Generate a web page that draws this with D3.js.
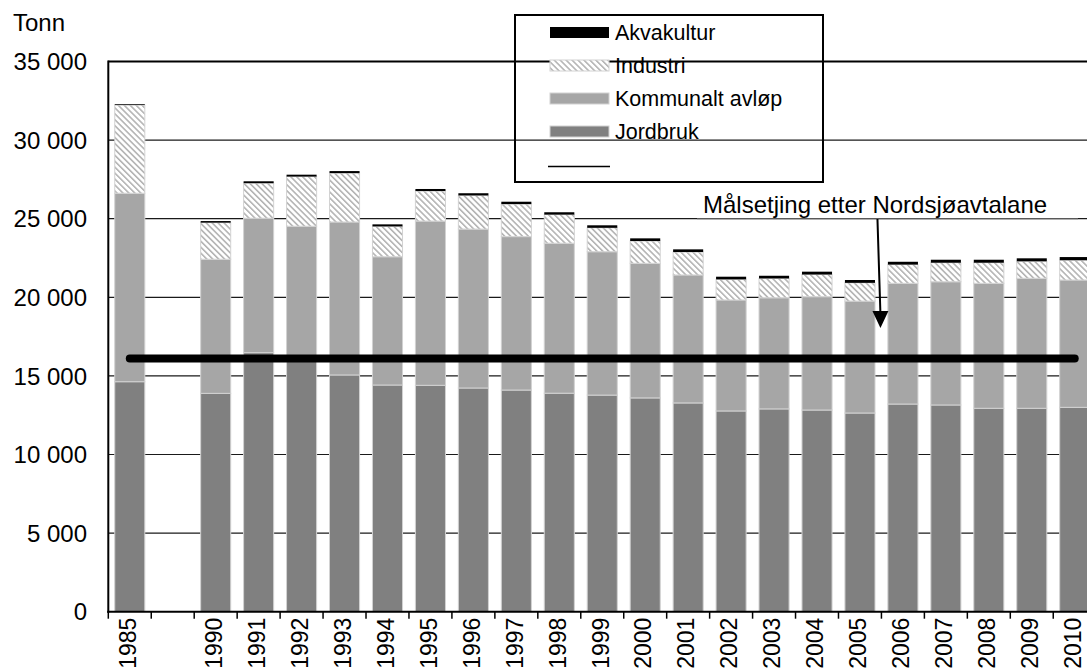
<!DOCTYPE html>
<html lang="no">
<head>
<meta charset="utf-8">
<title>Tilførsler av nitrogen</title>
<style>
  body { margin: 0; background: #fff; }
  svg { display: block; font-family: "Liberation Sans", Arial, sans-serif; }
  .grid line { stroke: #1a1a1a; stroke-width: 1.2; }
  .tick-label { font-size: 24px; fill: #000; }
  .x-label { font-size: 23px; fill: #000; }
  .legend text { font-size: 21.5px; fill: #000; }
</style>
</head>
<body>
<svg width="1087" height="670"></svg>
<script src="https://d3js.org/d3.v7.min.js"></script>
<script>
  // categories on the x axis ("" = the gap 1986-1989)
  const years = ["1985", "", "1990", "1991", "1992", "1993", "1994", "1995", "1996", "1997",
    "1998", "1999", "2000", "2001", "2002", "2003", "2004", "2005", "2006", "2007",
    "2008", "2009", "2010"];

  // tonn per year, null = no bar
  const jordbruk = [14630, null, 13890, 16480, 16300, 15060, 14420, 14400, 14230, 14100,
    13900, 13780, 13600, 13280, 12770, 12900, 12830, 12640, 13210, 13150,
    12940, 12940, 13000];
  const kommunalt = [11990, null, 8530, 8550, 8220, 9730, 8160, 10450, 10110, 9760,
    9540, 9120, 8560, 8140, 7060, 7070, 7210, 7120, 7680, 7840,
    7950, 8270, 8100];
  const industri = [5610, null, 2330, 2230, 3160, 3110, 1930, 1910, 2140, 2070,
    1820, 1520, 1420, 1460, 1310, 1230, 1410, 1160, 1190, 1210,
    1310, 1080, 1260];
  const akvakultur = [50, null, 100, 120, 120, 130, 130, 130, 140, 150,
    150, 160, 170, 170, 170, 170, 180, 180, 180, 190,
    190, 190, 200];

  const target = 16100;          // Målsetjing etter Nordsjøavtalane
  const yTicks = [0, 5000, 10000, 15000, 20000, 25000, 30000, 35000];

  const keys = ["Jordbruk", "Kommunalt avløp", "Industri", "Akvakultur"];
  const colors = {
    "Jordbruk": "#808080",
    "Kommunalt avløp": "#a6a6a6",
    "Industri": "url(#hatch)",
    "Akvakultur": "#000"
  };

  const rows = years.map((y, i) => ({
    year: y,
    "Jordbruk": jordbruk[i] || 0,
    "Kommunalt avløp": kommunalt[i] || 0,
    "Industri": industri[i] || 0,
    "Akvakultur": akvakultur[i] || 0,
    empty: jordbruk[i] == null
  }));

  const svg = d3.select("svg");
  const margin = {top: 61.5, left: 108.3, bottom: 58.3};
  const plotRight = 1096.2;
  const height = 670 - margin.bottom;

  const x = d3.scaleBand().domain(years).range([margin.left, plotRight]).padding(0);
  const y = d3.scaleLinear().domain([0, 35000]).range([height, margin.top]);
  const barW = x.bandwidth() * 0.7;

  // hatch pattern for Industri
  const defs = svg.append("defs");
  const pat = defs.append("pattern")
    .attr("id", "hatch")
    .attr("patternUnits", "userSpaceOnUse")
    .attr("width", 4.2).attr("height", 4.2)
    .attr("patternTransform", "rotate(-45)");
  pat.append("rect").attr("width", 4.2).attr("height", 4.2).attr("fill", "#fff");
  pat.append("line")
    .attr("x1", 0.8).attr("y1", 0).attr("x2", 0.8).attr("y2", 4.2)
    .attr("stroke", "#a3a3a3").attr("stroke-width", 1.3);

  // gridlines
  svg.append("g").attr("class", "grid")
    .selectAll("line")
    .data(yTicks.filter(d => d > 0 && d < 35000))
    .join("line")
    .attr("x1", margin.left).attr("x2", plotRight)
    .attr("y1", d => y(d)).attr("y2", d => y(d));

  // stacked bars
  const stacked = d3.stack().keys(keys)(rows);
  svg.append("g")
    .selectAll("g")
    .data(stacked)
    .join("g")
    .attr("fill", d => colors[d.key])
    .attr("stroke", d => d.key === "Akvakultur" ? "none" : "#d2d2d2")
    .attr("stroke-width", 1)
    .selectAll("rect")
    .data(d => d.filter(p => !p.data.empty))
    .join("rect")
    .attr("x", d => x(d.data.year) + (x.bandwidth() - barW) / 2)
    .attr("width", barW)
    .attr("y", d => y(d[1]))
    .attr("height", d => y(d[0]) - y(d[1]));

  // target line
  const first = years[0], last = years[years.length - 1];
  svg.append("line")
    .attr("x1", x(first) + x.bandwidth() / 2)
    .attr("x2", x(last) + x.bandwidth() / 2)
    .attr("y1", y(target)).attr("y2", y(target))
    .attr("stroke", "#000").attr("stroke-width", 8)
    .attr("stroke-linecap", "round");

  // annotation
  const note = svg.append("g");
  note.append("rect")
    .attr("x", 697).attr("y", 186).attr("width", 381).attr("height", 32)
    .attr("fill", "#fff");
  note.append("line")
    .attr("x1", 697).attr("x2", 1078).attr("y1", 219).attr("y2", 219)
    .attr("stroke", "#999").attr("stroke-width", 1);
  note.append("text")
    .attr("x", 703).attr("y", 213)
    .style("font-size", "24px")
    .text("Målsetjing etter Nordsjøavtalane");
  const tipX = x("2006") - 1, tipY = y(18050);
  note.append("line")
    .attr("x1", tipX - 3).attr("y1", 219)
    .attr("x2", tipX).attr("y2", tipY - 14)
    .attr("stroke", "#000").attr("stroke-width", 2);
  note.append("path")
    .attr("d", `M${tipX - 8},${tipY - 17}L${tipX + 8},${tipY - 17}L${tipX},${tipY}Z`)
    .attr("fill", "#000");

  // axes / frame
  svg.append("line")
    .attr("x1", margin.left).attr("x2", plotRight)
    .attr("y1", margin.top).attr("y2", margin.top)
    .attr("stroke", "#000").attr("stroke-width", 2);
  svg.append("line")
    .attr("x1", margin.left).attr("x2", margin.left)
    .attr("y1", margin.top - 1).attr("y2", height + 1)
    .attr("stroke", "#000").attr("stroke-width", 2);
  svg.append("line")
    .attr("x1", margin.left - 1).attr("x2", plotRight)
    .attr("y1", height).attr("y2", height)
    .attr("stroke", "#000").attr("stroke-width", 2);

  // x ticks at band boundaries
  svg.append("g")
    .selectAll("line")
    .data(years)
    .join("line")
    .attr("x1", d => x(d)).attr("x2", d => x(d))
    .attr("y1", height).attr("y2", height + 7)
    .attr("stroke", "#000").attr("stroke-width", 1.5);

  svg.append("g")
    .selectAll("text")
    .data(years.filter(d => d !== ""))
    .join("text")
    .attr("class", "x-label")
    .attr("transform", d => `translate(${x(d) + x.bandwidth() / 2 - 2},${height + 6}) rotate(-90)`)
    .attr("text-anchor", "end")
    .attr("dy", "0.36em")
    .text(d => d);

  // y labels
  const fmt = d => d3.format(",")(d).replace(/,/g, " ");
  svg.append("g")
    .selectAll("text")
    .data(yTicks)
    .join("text")
    .attr("class", "tick-label")
    .attr("x", 87).attr("y", d => y(d))
    .attr("dy", "0.36em")
    .attr("text-anchor", "end")
    .text(fmt);

  svg.append("text")
    .attr("class", "tick-label")
    .attr("x", 13).attr("y", 31)
    .text("Tonn");

  // legend (transparent box)
  const legend = svg.append("g").attr("class", "legend");
  legend.append("rect")
    .attr("x", 515).attr("y", 15).attr("width", 308).attr("height", 167)
    .attr("fill", "none").attr("stroke", "#000").attr("stroke-width", 2);
  const legendOrder = ["Akvakultur", "Industri", "Kommunalt avløp", "Jordbruk"];
  legendOrder.forEach((k, i) => {
    const cy = 32.5 + i * 33;
    legend.append("rect")
      .attr("x", 550).attr("y", cy - 5.5).attr("width", 59).attr("height", 11)
      .attr("fill", colors[k])
      .attr("stroke", k === "Akvakultur" ? "none" : "#d2d2d2");
    legend.append("text")
      .attr("x", 615).attr("y", cy + 7)
      .text(k);
  });
  legend.append("line")
    .attr("x1", 548).attr("x2", 610).attr("y1", 166.5).attr("y2", 166.5)
    .attr("stroke", "#000").attr("stroke-width", 1.5);
</script>
</body>
</html>
